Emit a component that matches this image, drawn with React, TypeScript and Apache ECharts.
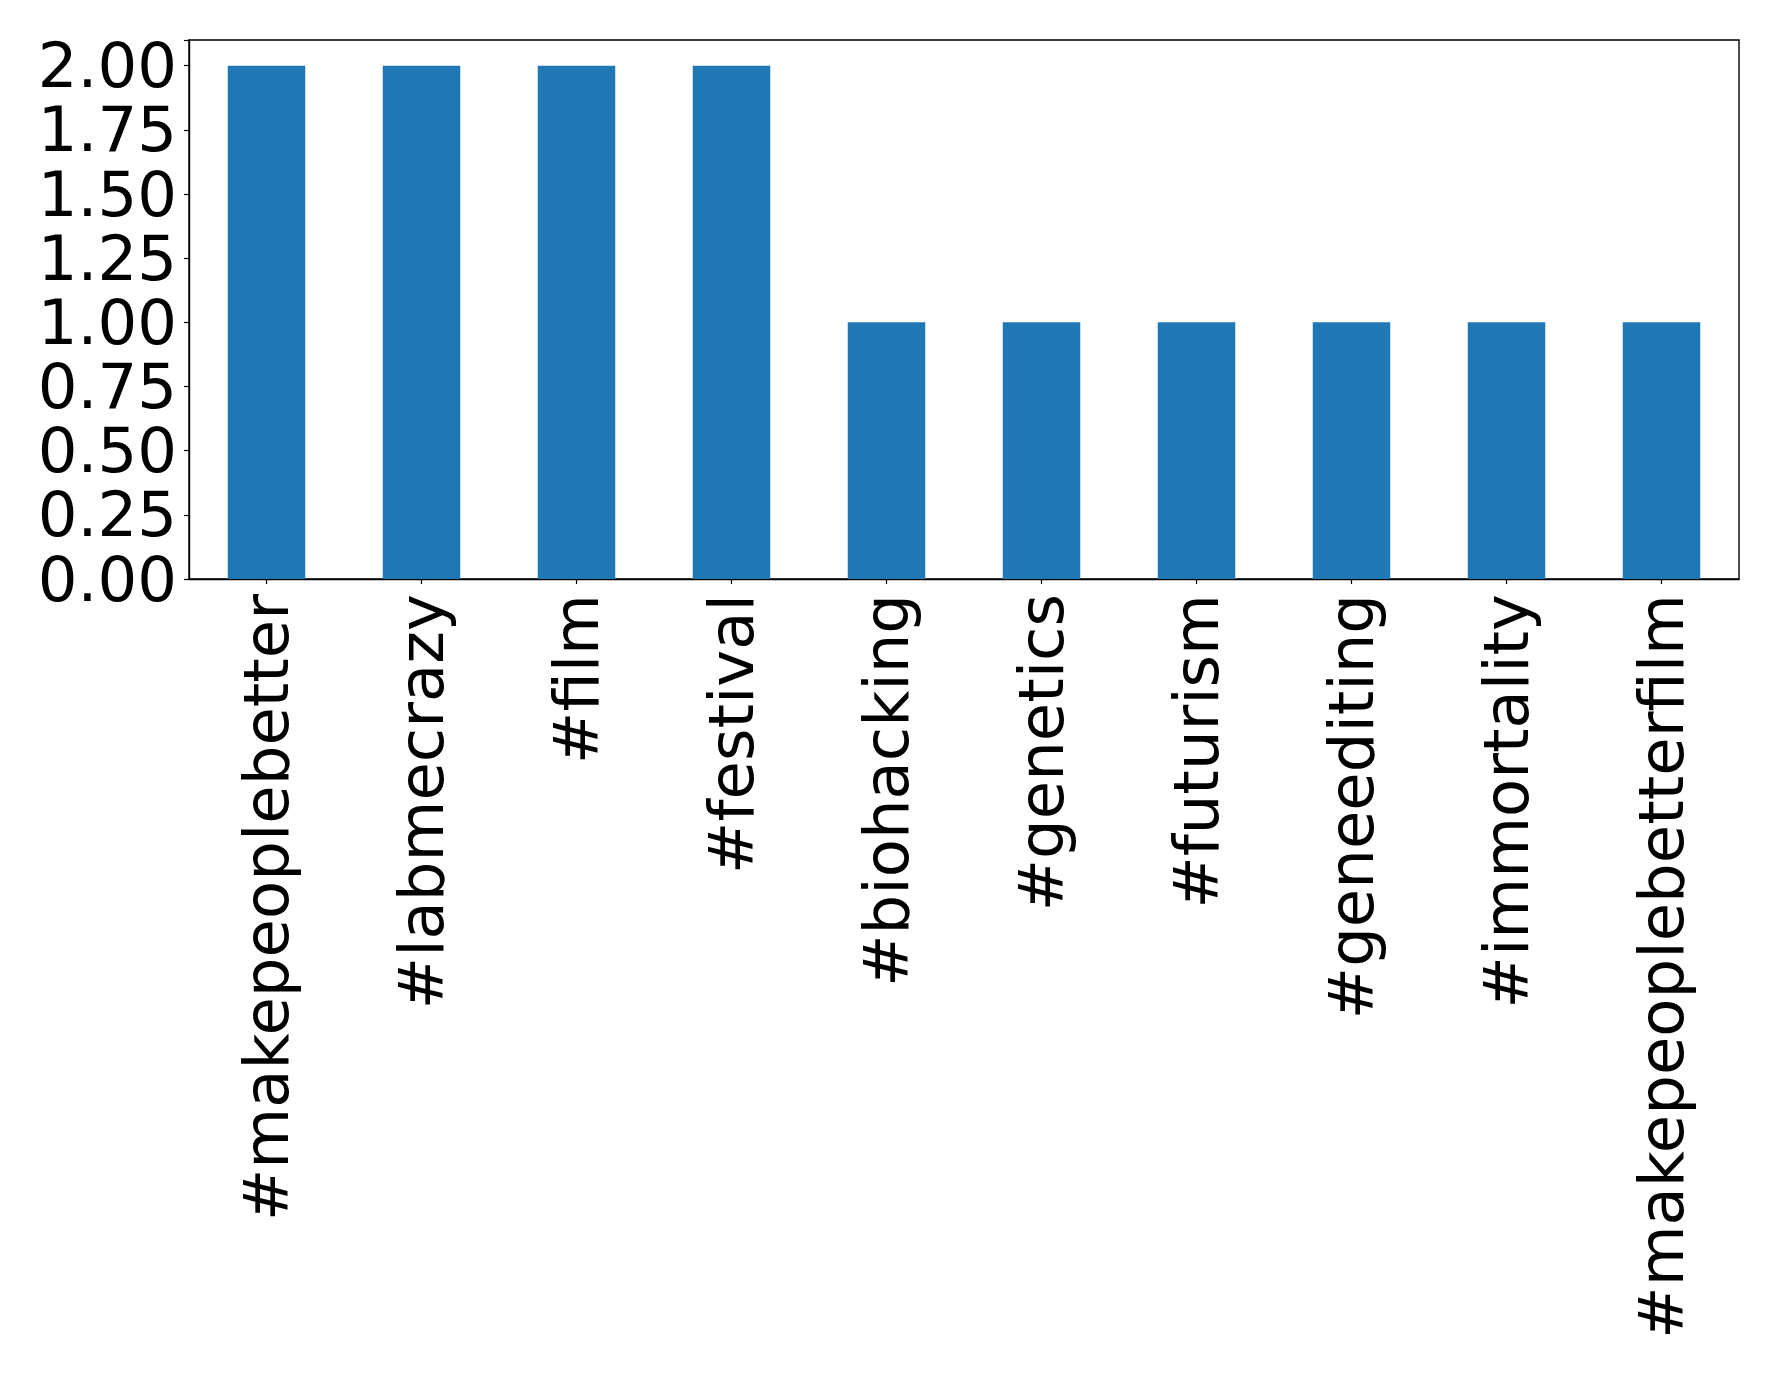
import React, { useEffect, useRef } from "react";
import * as echarts from "echarts";

const categories = [
  "#makepeoplebetter",
  "#labmecrazy",
  "#film",
  "#festival",
  "#biohacking",
  "#genetics",
  "#futurism",
  "#geneediting",
  "#immortality",
  "#makepeoplebetterfilm",
];
const counts = [2, 2, 2, 2, 1, 1, 1, 1, 1, 1];
const yTicks = [0, 0.25, 0.5, 0.75, 1, 1.25, 1.5, 1.75, 2];

export default function App() {
  const ref = useRef<HTMLDivElement>(null);
  useEffect(() => {
    if (!ref.current) return;
    const chart = echarts.init(ref.current, null, { renderer: "svg" });
    const font = "DejaVu Sans";
    chart.setOption({
      animation: false,
      backgroundColor: "#ffffff",
      grid: {
        left: 189,
        top: 40,
        width: 1550,
        height: 539,
        show: true,
        borderColor: "#000000",
        borderWidth: 1.4,
        backgroundColor: "transparent",
      },
      xAxis: {
        type: "category",
        data: categories,
        boundaryGap: true,
        axisLine: { show: true, lineStyle: { color: "#000", width: 1.4 } },
        axisTick: {
          show: true,
          alignWithLabel: true,
          length: 5,
          lineStyle: { color: "#000", width: 1.2 },
        },
        axisLabel: {
          rotate: 90,
          interval: 0,
          margin: 15,
          fontFamily: font,
          fontSize: 62.5,
          lineHeight: 50,
          color: "#000",
        },
        splitLine: { show: false },
      },
      yAxis: {
        type: "value",
        min: 0,
        max: 2.1,
        interval: 0.25,
        axisLine: { show: true, lineStyle: { color: "#000", width: 1.4 } },
        axisTick: { show: true, length: 5, lineStyle: { color: "#000", width: 1.2 } },
        splitLine: { show: false },
        axisLabel: {
          margin: 12,
          fontFamily: font,
          fontSize: 62.5,
          lineHeight: 50,
          color: "#000",
          formatter: (v: number) =>
            yTicks.some((t) => Math.abs(t - v) < 1e-9) ? v.toFixed(2) : "",
        },
      },
      series: [
        {
          type: "bar",
          data: counts,
          barWidth: "50%",
          itemStyle: { color: "#1f77b4" },
        },
      ],
    });
    return () => chart.dispose();
  }, []);
  return (
    <div
      ref={ref}
      style={{ position: "absolute", left: 0, top: 0, width: 1778, height: 1373 }}
    />
  );
}
